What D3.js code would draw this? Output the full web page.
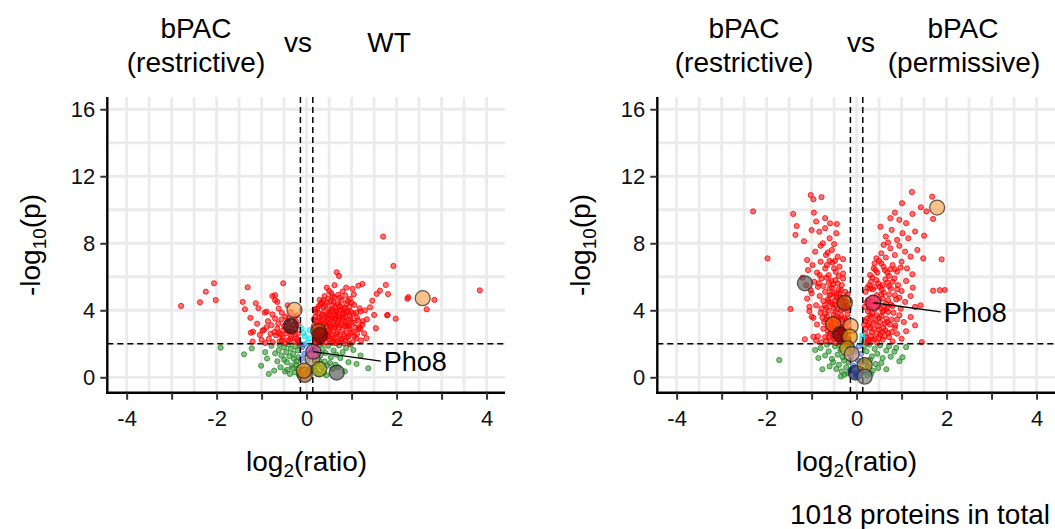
<!DOCTYPE html>
<html>
<head>
<meta charset="utf-8">
<script src="https://cdn.jsdelivr.net/npm/d3@7/dist/d3.min.js"></script>
<style>
  body { margin: 0; background: #fff; }
  svg { display: block; }
</style>
</head>
<body>
<div id="chart"></div>
<script>
// ---- data: [log2(ratio), -log10(p)] ----

// bPAC (restrictive) vs WT
var redL = [
  [0.18,2.05],[0.25,2.2],[0.31,2.1],[0.38,2.35],[0.44,2.08],[0.5,2.27],[0.57,2.15],[0.63,2.4],[0.7,2.12],[0.78,2.3],[0.86,2.18],[0.93,2.44],[1.02,2.1],[1.1,2.33],[1.21,2.2],[0.21,2.42],[0.35,2.48],[0.48,2.45],[0.66,2.03],[0.82,2.02],[1.33,2.33],
  [0.17,2.6],[0.24,2.75],[0.3,2.55],[0.36,2.9],[0.42,2.68],[0.49,2.82],[0.55,2.58],[0.61,2.95],[0.68,2.7],[0.74,2.52],[0.8,2.86],[0.88,2.64],[0.95,2.93],[1.03,2.7],[1.12,2.58],[1.19,2.88],[1.28,2.62],[0.27,2.98],[0.52,2.99],[0.72,2.97],[1.54,2.93],[1.08,2.96],
  [0.16,3.05],[0.22,3.3],[0.29,3.12],[0.35,3.42],[0.41,3.2],[0.47,3.48],[0.53,3.08],[0.59,3.33],[0.65,3.15],[0.71,3.45],[0.77,3.22],[0.84,3.38],[0.9,3.1],[0.97,3.47],[1.05,3.25],[1.14,3.4],[1.24,3.14],[1.34,3.46],[0.44,3.02],[0.62,3.5],[0.86,3.04],[1.18,3.02],
  [0.19,3.6],[0.26,3.85],[0.33,3.68],[0.39,3.95],[0.46,3.72],[0.52,3.9],[0.58,3.58],[0.64,3.82],[0.7,3.66],[0.76,3.98],[0.82,3.74],[0.89,3.88],[0.96,3.62],[1.04,3.8],[1.12,3.56],[1.2,3.92],[1.5,3.72],[1.8,3.72],[1.98,3.5],[0.55,3.99],[0.92,3.97],
  [0.24,4.1],[0.31,4.35],[0.38,4.18],[0.45,4.45],[0.51,4.05],[0.57,4.3],[0.63,4.15],[0.69,4.42],[0.75,4.22],[0.82,4.05],[0.88,4.38],[0.95,4.2],[1.06,4.32],[1.18,4.12],[1.41,4.18],[1.46,4.57],[0.34,4.48],[0.6,4.5],
  [0.29,4.62],[0.4,4.85],[0.48,4.7],[0.55,5.02],[0.62,4.76],[0.7,4.92],[0.78,4.6],[0.86,4.88],[0.96,4.68],[1.05,4.95],[0.5,5.15],[0.8,5.12],[1.15,5.47],[1.24,5.57],[1.02,5.28],[1.56,4.98],[1.63,5.17],[1.76,5.51],[1.81,4.97],
  [0.67,6.27],[0.72,6.05],[0.62,5.5],[0.88,5.35],[1.7,8.4],[1.93,6.65],[2.26,4.78],[2.24,4.69],[2.84,4.62],[2.67,4.06],[1.79,3.7],[3.85,5.19],[0.45,5.35],
  [0.2,2.3],[0.27,2.5],[0.33,2.25],[0.4,2.6],[0.46,2.4],[0.53,2.7],[0.6,2.3],[0.67,2.6],[0.75,2.25],[0.83,2.55],[0.9,2.35],[0.98,2.65],[1.06,2.45],[0.23,3.15],[0.3,3.4],[0.37,3.1],[0.44,3.35],[0.5,3.2],[0.56,3.45],[0.63,3.0],[0.69,3.3],[0.75,3.1],[0.81,3.55],[0.88,3.25],[0.94,3.05],[1.0,3.3],
  [0.2,3.9],[0.28,3.55],[0.36,3.75],[0.43,3.6],[0.5,3.7],[0.61,3.7],[0.67,3.92],[0.73,3.6],[0.8,3.85],[0.86,3.6],[0.99,3.9],[0.27,4.25],[0.42,4.3],[0.54,4.55],[0.66,4.0],[0.72,4.3],[0.85,4.15],[1.0,4.45],[0.37,4.6],[0.58,4.85],[0.74,4.75],[0.92,4.55],[0.19,2.75],[0.16,3.45],[0.22,2.0],[0.58,2.05],[0.35,2.05],[0.95,2.0],[1.15,2.9],[1.25,3.35],[1.1,3.85],[1.3,4.0],[0.18,4.05],
  [-0.17,2.05],[-0.22,2.3],[-0.28,2.12],[-0.34,2.45],[-0.41,2.2],[-0.47,2.05],[-0.53,2.38],[-0.6,2.15],[-0.68,2.5],[-0.75,2.1],[-0.84,2.3],[-0.92,2.05],[-1.0,2.23],[-1.04,2.53],[-1.2,2.13],[-1.24,2.66],
  [-0.19,2.6],[-0.25,2.85],[-0.31,2.68],[-0.38,2.95],[-0.45,2.62],[-0.52,2.8],[-0.58,2.55],[-0.65,2.9],[-0.72,2.7],[-0.8,2.6],[-0.89,2.99],[-0.98,2.78],[-1.19,2.72],[-0.95,2.83],
  [-0.18,3.1],[-0.24,3.35],[-0.3,3.15],[-0.43,3.3],[-0.5,3.05],[-0.56,3.45],[-0.63,3.2],[-0.7,3.5],[-0.78,3.1],[-0.86,3.35],[-1.1,3.2],
  [-0.22,3.7],[-0.35,3.9],[-0.47,3.62],[-0.55,3.85],[-0.62,4.1],[-0.76,3.75],[-0.93,3.86],[-0.89,3.92],[-1.07,4.12],[-1.13,4.42],[-1.37,4.06],[-1.42,4.5],[-0.65,4.5],[-0.7,4.6],[-0.76,4.85],[-0.7,4.9],[-0.52,5.61],[-1.31,5.37],
  [-2.02,4.61],[-2.06,5.61],[-2.24,5.11],[-2.37,4.48],[-2.79,4.26],[-0.42,4.3],[-1.25,3.55],[-0.2,2.2],[-0.26,2.55],[-0.36,2.3],[-0.4,2.75],[-0.55,2.2],[-0.62,2.65],[-0.27,3.6],[-0.4,3.5]
];
var greenL = [
  [-0.16,1.9],[-0.2,1.6],[-0.25,1.85],[-0.3,1.4],[-0.35,1.7],[-0.4,1.95],[-0.45,1.5],[-0.5,1.78],[-0.56,1.3],[-0.62,1.62],[-0.7,1.43],[-0.78,1.88],[-0.18,1.2],[-0.23,0.95],[-0.28,1.1],[-0.33,0.7],[-0.38,1.25],[-0.44,0.9],[-0.5,1.05],[-0.58,0.6],[-0.65,0.95],[-0.2,0.5],[-0.26,0.3],[-0.31,0.55],[-0.37,0.2],[-0.43,0.45],[-0.17,0.15],[-0.22,0.75],[-0.48,0.35],[-0.84,0.2],[-1.01,0.69],[-1.22,1.73],[-1.39,1.37],[-1.91,1.77],[-0.92,1.5],[-0.88,1.12],[-0.72,0.4],[-0.6,1.95],
  [0.16,1.85],[0.21,1.55],[0.26,1.92],[0.31,1.3],[0.36,1.7],[0.42,1.45],[0.48,1.88],[0.54,1.2],[0.6,1.6],[0.66,1.35],[0.72,1.9],[0.8,1.5],[0.88,1.75],[0.18,1.1],[0.23,0.8],[0.28,1.0],[0.34,0.6],[0.4,0.95],[0.46,0.7],[0.52,0.85],[0.58,0.5],[0.64,0.75],[0.2,0.4],[0.25,0.2],[0.38,0.3],[0.44,0.12],[0.7,0.6],[0.75,1.15],[0.93,0.9],[1.04,1.63],[1.11,0.8],[1.37,0.54],[0.98,1.95],[0.85,0.35],[1.2,1.3],[0.16,0.6]
];
var cyanL = [[0.07,2.82],[-0.07,2.63],[0.07,2.33],[-0.11,2.92],[0.02,2.1],[-0.04,2.45]];
var blueL = [[-0.1,1.8],[-0.05,1.4],[-0.12,1.1],[-0.08,0.7],[-0.03,0.3],[-0.11,0.15],[0.02,1.0],[0.06,0.5],[-0.06,1.95],[0.1,1.6],[0.04,0.2]];
// highlighted proteins: [x, y, fill]
var hiL = [
  [-0.27,4.02,"#f6a455"],[-0.35,3.06,"#3c0f0f"],[0.26,2.76,"#c85400"],[0.30,2.53,"#7a0000"],
  [0.13,1.13,"#c4906a"],[0.15,1.53,"#c0388c"],[-0.04,0.14,"#a0521c"],[-0.06,0.4,"#e88a00"],
  [0.28,0.48,"#b8a400"],[0.67,0.28,"#5a5a5a"],[2.58,4.72,"#f6a455"]
];
var labelL = { name: "Pho8", at: [0.15,1.53], end: [1.65,0.97] };

// bPAC (restrictive) vs bPAC (permissive)
var redR = [
  [-0.16,2.1],[-0.22,2.35],[-0.28,2.15],[-0.34,2.6],[-0.4,2.25],[-0.46,2.05],[-0.52,2.5],[-0.58,2.2],[-0.64,2.75],[-0.7,2.4],[-0.78,2.1],[-0.86,2.45],[-0.96,2.42],[-1.15,2.27],[-0.19,2.8],[-0.25,2.95],[-0.31,2.7],[-0.43,2.85],[-0.55,2.98],[-0.74,2.9],[-0.9,2.2],
  [-0.17,3.1],[-0.23,3.4],[-0.29,3.2],[-0.35,3.7],[-0.41,3.35],[-0.47,3.9],[-0.53,3.5],[-0.59,3.1],[-0.66,3.65],[-0.72,3.3],[-0.8,3.85],[-0.88,3.15],[-0.96,3.55],[-1.0,3.62],[-1.05,3.95],[-0.2,3.75],[-0.38,3.05],[-0.62,3.98],[-0.76,3.55],
  [-0.18,4.1],[-0.24,4.5],[-0.3,4.25],[-0.36,4.8],[-0.42,4.05],[-0.48,4.6],[-0.54,4.35],[-0.6,4.9],[-0.67,4.15],[-0.74,4.55],[-0.82,4.85],[-0.9,4.3],[-1.05,4.21],[-1.0,5.01],[-0.2,4.95],[-0.28,4.7],[-0.58,4.45],[-1.47,4.08],[-1.1,4.7],[-0.45,4.95],
  [-0.25,5.1],[-0.33,5.5],[-0.4,5.25],[-0.47,5.8],[-0.55,5.35],[-0.62,5.65],[-0.7,5.1],[-0.78,5.9],[-0.86,5.4],[-0.94,5.7],[-1.02,5.2],[-1.12,5.5],[-0.3,5.9],[-0.5,5.05],[-1.2,5.95],
  [-0.3,6.2],[-0.38,6.6],[-0.46,6.3],[-0.54,6.85],[-0.62,6.1],[-0.7,6.5],[-0.8,6.9],[-0.88,6.25],[-0.98,6.7],[-1.08,6.4],[-1.1,7.0],[-0.3,7.05],[-0.6,6.95],
  [-0.42,7.2],[-0.55,7.6],[-0.68,7.3],[-0.8,7.85],[-0.92,7.5],[-1.17,8.12],[-1.98,7.1],[-0.5,7.95],[-0.75,8.0],
  [-0.6,8.3],[-0.83,8.69],[-1.0,8.79],[-1.36,8.5],[-0.7,8.9],[-0.45,8.6],
  [-1.33,9.03],[-0.59,9.19],[-0.44,9.15],[-1.41,9.75],[-0.95,9.83],[-2.3,9.9],[-1.02,10.88],[-0.96,10.62],[-0.78,10.75],[-0.7,9.5],[-0.9,9.3],
  [-0.2,2.5],[-0.26,2.25],[-0.32,2.9],[-0.38,2.45],[-0.44,2.65],[-0.5,2.3],[-0.56,2.75],[-0.62,2.4],[-0.68,2.15],[-0.21,3.25],[-0.27,3.55],[-0.33,3.0],[-0.39,3.55],[-0.45,3.2],[-0.51,3.75],[-0.57,3.35],[-0.64,3.05],[-0.7,3.8],
  [-0.22,4.3],[-0.27,4.05],[-0.33,4.6],[-0.39,4.4],[-0.45,4.75],[-0.51,4.15],[-0.57,4.95],[-0.64,4.65],[-0.7,4.3],[-0.78,4.1],[-0.35,5.2],[-0.42,5.6],[-0.52,5.55],[-0.6,5.3],[-0.67,5.95],[-0.74,5.45],[-0.4,6.05],[-0.5,6.5],[-0.66,6.7],[-0.84,5.6],
  [-0.24,2.05],[-0.3,2.45],[-0.36,2.2],[-0.48,2.9],[-0.6,2.6],[-0.25,3.0],[-0.31,3.45],[-0.43,3.6],[-0.55,3.2],[-0.68,3.45],[-0.26,4.25],[-0.35,4.0],[-0.47,4.3],[-0.62,4.55],[-0.38,5.0],[-0.56,5.75],[-0.82,6.1],[-0.48,6.95],[-0.64,7.45],
  [0.16,2.1],[0.22,2.4],[0.28,2.2],[0.34,2.7],[0.4,2.3],[0.46,2.05],[0.52,2.55],[0.58,2.25],[0.64,2.8],[0.72,2.4],[0.8,2.15],[0.9,2.6],[1.0,2.3],[1.45,2.1],[0.2,2.9],[0.3,2.95],[0.5,2.85],[0.85,2.95],[1.1,2.75],
  [0.17,3.15],[0.23,3.5],[0.29,3.25],[0.35,3.8],[0.42,3.4],[0.48,3.05],[0.55,3.65],[0.62,3.2],[0.7,3.9],[0.78,3.45],[0.86,3.1],[0.95,3.7],[1.05,3.3],[1.2,3.6],[0.25,3.95],[0.6,3.98],[0.82,3.85],[1.3,3.1],
  [0.18,4.2],[0.25,4.6],[0.32,4.3],[0.45,4.9],[0.52,4.15],[0.58,4.7],[0.65,4.4],[0.72,4.95],[0.8,4.25],[0.88,4.65],[0.98,4.1],[1.08,4.5],[1.2,4.85],[1.3,4.2],[0.4,4.05],[1.42,4.3],
  [0.2,5.1],[0.28,5.5],[0.36,5.25],[0.44,5.8],[0.52,5.4],[0.6,5.05],[0.68,5.65],[0.76,5.3],[0.84,5.9],[0.92,5.5],[1.0,5.15],[1.1,5.75],[1.25,5.35],[1.7,5.17],[1.96,5.21],[1.85,5.2],[0.35,5.95],
  [0.3,6.1],[0.38,6.5],[0.46,6.25],[0.55,6.8],[0.63,6.4],[0.72,6.05],[0.8,6.7],[0.9,6.3],[1.0,6.9],[1.12,6.5],[1.24,6.15],[1.48,7.1],[1.89,7.04],[0.5,6.95],
  [0.44,7.1],[0.55,7.4],[0.65,7.15],[0.75,7.7],[0.85,7.3],[0.95,7.85],[1.08,7.5],[1.2,7.2],[1.35,7.6],[0.6,7.9],
  [0.53,8.99],[0.65,8.4],[0.78,8.8],[0.9,8.2],[1.02,8.6],[1.15,8.3],[1.3,8.7],[1.5,8.45],[0.7,8.05],
  [0.85,9.83],[1.01,10.39],[1.23,11.06],[1.68,10.78],[1.43,10.15],[1.7,9.45],[1.24,9.75],[0.95,9.4],[1.1,9.2],[1.55,9.9],[0.75,9.5],
  [0.2,2.6],[0.26,2.25],[0.32,2.45],[0.38,2.9],[0.44,2.6],[0.5,2.35],[0.56,2.7],[0.62,2.45],[0.7,2.65],[0.2,3.35],[0.26,3.1],[0.32,3.6],[0.38,3.25],[0.45,3.7],[0.52,3.3],[0.58,3.9],[0.66,3.5],[0.74,3.15],
  [0.22,4.45],[0.28,4.1],[0.35,4.75],[0.42,4.45],[0.48,4.25],[0.55,4.95],[0.62,4.2],[0.7,4.6],[0.76,4.35],[0.85,4.9],[0.24,5.35],[0.32,5.7],[0.4,5.4],[0.48,5.6],[0.56,5.25],[0.64,5.85],[0.72,5.45],[0.8,5.7],[0.42,6.4],[0.6,6.6],[0.68,6.25],[0.85,6.45],
  [0.24,2.05],[0.36,2.25],[0.6,2.95],[0.78,2.7],[0.3,3.7],[0.5,3.55],[0.68,3.3],[0.9,3.45],[0.3,4.5],[0.5,4.6],[0.68,4.1],[0.95,4.75],[0.3,5.3],[0.58,5.5],[0.9,5.25],[0.4,6.8],[0.75,6.45],[0.98,6.55]
];
var greenR = [
  [-0.16,1.8],[-0.21,1.5],[-0.26,1.9],[-0.31,1.2],[-0.36,1.65],[-0.42,1.35],[-0.48,1.85],[-0.55,1.1],[-0.62,1.55],[-0.7,1.3],[-0.8,1.75],[-0.92,1.63],[-0.18,0.9],[-0.23,0.6],[-0.28,1.0],[-0.33,0.35],[-0.39,0.75],[-0.45,0.5],[-0.52,0.9],[-0.6,0.65],[-0.76,0.48],[-0.2,0.25],[-0.27,0.15],[-0.35,0.05],[-1.72,1.03],[-0.85,1.15],[-0.4,1.95],[-0.66,1.95],
  [0.16,1.85],[0.22,1.55],[0.28,1.95],[0.34,1.25],[0.4,1.7],[0.46,1.4],[0.52,1.9],[0.58,1.15],[0.66,1.6],[0.76,1.23],[0.84,1.53],[0.95,0.96],[1.02,1.19],[0.2,0.95],[0.25,0.65],[0.3,1.05],[0.36,0.4],[0.42,0.8],[0.48,0.55],[0.55,0.85],[0.66,0.48],[0.18,0.3],[0.24,0.1],[0.32,0.2],[0.72,1.85],[1.1,1.8],[0.88,1.75]
];
var cyanR = [[0.13,2.52],[0.11,2.02],[0.12,2.3]];
var blueR = [[-0.1,1.8],[-0.05,1.5],[-0.12,1.2],[0.03,1.0],[-0.08,0.7],[0.08,0.5],[-0.02,0.25],[0.1,1.4],[0.05,1.85],[-0.13,0.4],[0.12,0.9],[0.0,0.1]];
var hiR = [
  [1.79,10.13,"#f6a455"],[-1.15,5.61,"#5a5a5a"],[-0.26,4.45,"#b04a00"],[0.37,4.45,"#e8336f"],
  [-0.52,3.16,"#f06000"],[-0.13,3.06,"#f6a455"],[-0.37,2.57,"#700000"],[-0.15,2.43,"#e88a00"],
  [-0.21,1.73,"#c89000"],[-0.11,1.39,"#c4906a"],[-0.02,0.28,"#10205e"],[0.18,0.73,"#b08020"],[0.18,0.04,"#7a7a7a"]
];
var labelR = { name: "Pho8", at: [0.37,4.45], end: [1.87,3.9] };

// axis breaks
var xTicks = [-4,-3,-2,-1,0,1,2,3,4];
var xTickLabels = ["-4","","-2","","0","","2","","4"];
var yTicks = [0,4,8,12,16];
var xGrid = d3.range(-4, 4.01, 0.5);
var yGrid = [0,2,4,6,8,10,12,14,16];
var fcCut = 0.1375, pCut = 2;   // log2(1.1), p = 0.01

var FONT = "'Liberation Sans', Arial, sans-serif";

function ptColor(d) {
    var sig = d[1] >= pCut, big = Math.abs(d[0]) > fcCut;
    if (sig) return big ? "#ff0000" : "#00e5ee";
    return big ? "#228b22" : "#4169e1";
}

function setup() {
    var W = 1055, H = 529;
    var top = 97, bottom = 392.7, pw = 397.7;

    var svg = d3.select("#chart").append("svg")
        .attr("width", W)
        .attr("height", H)
        .style("font-family", FONT);

    var y = d3.scaleLinear().domain([-0.92, 16.73]).range([bottom, top]);

    var panels = [
        { left: 107.3, pts: [greenL, blueL, redL, cyanL], hi: hiL, lab: labelL, yLabX: 30 },
        { left: 657.3, pts: [greenR, blueR, redR, cyanR], hi: hiR, lab: labelR, yLabX: 580 }
    ];

    panels.forEach(function(p) {
        var x = d3.scaleLinear().domain([-4.43, 4.41]).range([p.left, p.left + pw]);
        var g = svg.append("g");

        // grid
        g.selectAll(".vg").data(xGrid).enter().append("line")
            .attr("x1", function(d) { return x(d); }).attr("x2", function(d) { return x(d); })
            .attr("y1", top).attr("y2", bottom)
            .attr("stroke", "#ebebeb").attr("stroke-width", 2.8);
        g.selectAll(".hg").data(yGrid).enter().append("line")
            .attr("x1", p.left).attr("x2", p.left + pw)
            .attr("y1", function(d) { return y(d); }).attr("y2", function(d) { return y(d); })
            .attr("stroke", "#ebebeb").attr("stroke-width", 2.8);

        // points
        p.pts.forEach(function(arr) {
            g.append("g").selectAll("circle").data(arr).enter().append("circle")
                .attr("cx", function(d) { return x(d[0]); })
                .attr("cy", function(d) { return y(d[1]); })
                .attr("r", 2.6)
                .attr("fill", ptColor).attr("fill-opacity", 0.55)
                .attr("stroke", ptColor).attr("stroke-opacity", 0.75).attr("stroke-width", 1);
        });

        // threshold lines
        [-fcCut, fcCut].forEach(function(v) {
            g.append("line")
                .attr("x1", x(v)).attr("x2", x(v)).attr("y1", top).attr("y2", bottom)
                .attr("stroke", "#000").attr("stroke-width", 1.5).attr("stroke-dasharray", "6,4");
        });
        g.append("line")
            .attr("x1", p.left).attr("x2", p.left + pw).attr("y1", y(pCut)).attr("y2", y(pCut))
            .attr("stroke", "#000").attr("stroke-width", 1.5).attr("stroke-dasharray", "6,4");

        // highlighted proteins
        g.append("g").selectAll("circle").data(p.hi).enter().append("circle")
            .attr("cx", function(d) { return x(d[0]); })
            .attr("cy", function(d) { return y(d[1]); })
            .attr("r", 7.5)
            .attr("fill", function(d) { return d[2]; }).attr("fill-opacity", 0.68)
            .attr("stroke", "#222").attr("stroke-opacity", 0.7).attr("stroke-width", 1.3);

        // label
        g.append("line")
            .attr("x1", x(p.lab.at[0])).attr("y1", y(p.lab.at[1]))
            .attr("x2", x(p.lab.end[0])).attr("y2", y(p.lab.end[1]))
            .attr("stroke", "#000").attr("stroke-width", 1.3);
        g.append("text")
            .attr("x", x(p.lab.end[0]) + 3).attr("y", y(p.lab.end[1]) + 10)
            .attr("font-size", 27).attr("fill", "#000")
            .text(p.lab.name);

        // axes
        var ax = g.append("g")
            .attr("transform", "translate(0," + bottom + ")")
            .call(d3.axisBottom(x).tickValues(xTicks).tickSizeInner(7).tickSizeOuter(0).tickPadding(11)
                .tickFormat(function(d, i) { return xTickLabels[i]; }));
        var ay = g.append("g")
            .attr("transform", "translate(" + p.left + ",0)")
            .call(d3.axisLeft(y).tickValues(yTicks).tickSizeInner(7).tickSizeOuter(0).tickPadding(5));
        [ax, ay].forEach(function(a) {
            a.attr("font-family", FONT).attr("font-size", 22);
            a.select(".domain").attr("stroke", "#000").attr("stroke-width", 2.4);
            a.selectAll(".tick line").attr("stroke", "#333").attr("stroke-width", 2);
            a.selectAll(".tick text").attr("fill", "#111");
        });
        ay.select(".domain").attr("d", "M0," + (top) + "V" + (bottom + 1.2));
        ax.select(".domain").attr("d", "M" + (p.left - 1.2) + ",0H" + (p.left + pw));

        // axis titles
        var xt = g.append("text")
            .attr("x", x(0)).attr("y", 471)
            .attr("text-anchor", "middle").attr("font-size", 28).attr("fill", "#000");
        xt.append("tspan").text("log");
        xt.append("tspan").attr("dy", 6).attr("font-size", 19).text("2");
        xt.append("tspan").attr("dy", -6).text("(ratio)");

        var yt = g.append("text")
            .attr("transform", "translate(" + (p.yLabX + 10) + "," + 245 + ") rotate(-90)")
            .attr("text-anchor", "middle").attr("font-size", 28).attr("fill", "#000");
        yt.append("tspan").text("-log");
        yt.append("tspan").attr("dy", 6).attr("font-size", 19).text("10");
        yt.append("tspan").attr("dy", -6).text("(p)");
    });

    // titles
    var titles = [
        ["bPAC", 196, 38], ["(restrictive)", 196, 72], ["vs", 298, 52], ["WT", 389, 52],
        ["bPAC", 744, 38], ["(restrictive)", 744, 72], ["vs", 861, 52],
        ["bPAC", 963, 38], ["(permissive)", 964, 72]
    ];
    svg.selectAll(".title").data(titles).enter().append("text")
        .attr("x", function(d) { return d[1]; })
        .attr("y", function(d) { return d[2]; })
        .attr("text-anchor", "middle").attr("font-size", 28).attr("fill", "#000")
        .text(function(d) { return d[0]; });

    svg.append("text")
        .attr("x", 1050).attr("y", 524)
        .attr("text-anchor", "end").attr("font-size", 28).attr("fill", "#000")
        .text("1018 proteins in total");
}

setup();
</script>
</body>
</html>
